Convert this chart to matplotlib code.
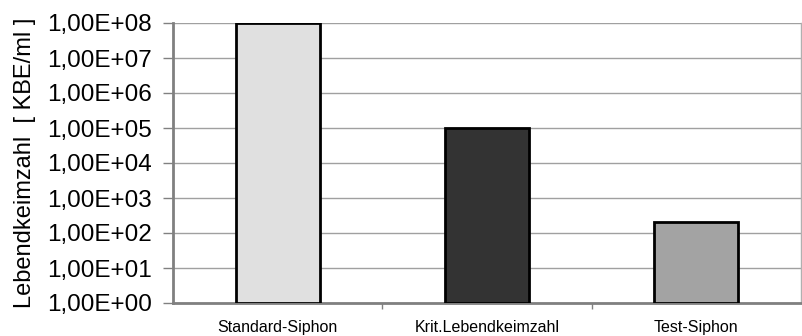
import matplotlib.pyplot as plt
from matplotlib.ticker import FixedLocator, NullLocator

plt.rcParams['font.family'] = ['Liberation Sans', 'DejaVu Sans']

# Keimzahlen je Probe
categories = ['Standard-Siphon', 'Krit.Lebendkeimzahl', 'Test-Siphon']
counts = [1.0e8, 1.0e5, 2.0e2]
bar_colors = ['#e0e0e0', '#333333', '#a3a3a3']

y_ticks = [1e0, 1e1, 1e2, 1e3, 1e4, 1e5, 1e6, 1e7, 1e8]
y_ticklabels = ['1,00E+00', '1,00E+01', '1,00E+02', '1,00E+03', '1,00E+04',
                '1,00E+05', '1,00E+06', '1,00E+07', '1,00E+08']

fig = plt.figure(figsize=(8.03, 3.36), dpi=100)
ax = fig.add_axes([173 / 803, 1 - 303 / 336, 628 / 803, 280 / 336])

x = range(len(categories))
ax.bar(x, [c - 1 for c in counts], bottom=1, width=0.4, color=bar_colors,
       edgecolor='black', linewidth=2.0, zorder=3)

ax.set_yscale('log')
ax.set_ylim(1, 1e8)
ax.set_xlim(-0.5, 2.5)
ax.yaxis.set_major_locator(FixedLocator(y_ticks))
ax.yaxis.set_minor_locator(NullLocator())
ax.set_yticklabels(y_ticklabels, fontsize=17.5)

# Kategorie-Ticks zwischen den Balken, Beschriftung ohne Tick
ax.set_xticks([0.5, 1.5])
ax.set_xticklabels([])
ax.set_xticks(list(x), minor=True)
ax.set_xticklabels(categories, minor=True, fontsize=11.5)
ax.tick_params(axis='x', which='minor', length=0, pad=12)
ax.tick_params(axis='x', which='major', length=4, width=1, color='#808080')
ax.tick_params(axis='y', which='major', length=7, width=1, color='#808080', pad=8)

ax.grid(axis='y', color='#a0a0a0', linewidth=1.0, zorder=0)
ax.set_axisbelow(True)

for side in ['left', 'bottom']:
    ax.spines[side].set_color('#808080')
    ax.spines[side].set_linewidth(2.0)
ax.spines['right'].set_color('#b0b0b0')
ax.spines['right'].set_linewidth(1.0)
ax.spines['top'].set_visible(False)

ax.set_ylabel('Lebendkeimzahl  [ KBE/ml ]', fontsize=17, labelpad=8)

fig.savefig('out.png', dpi=100)
